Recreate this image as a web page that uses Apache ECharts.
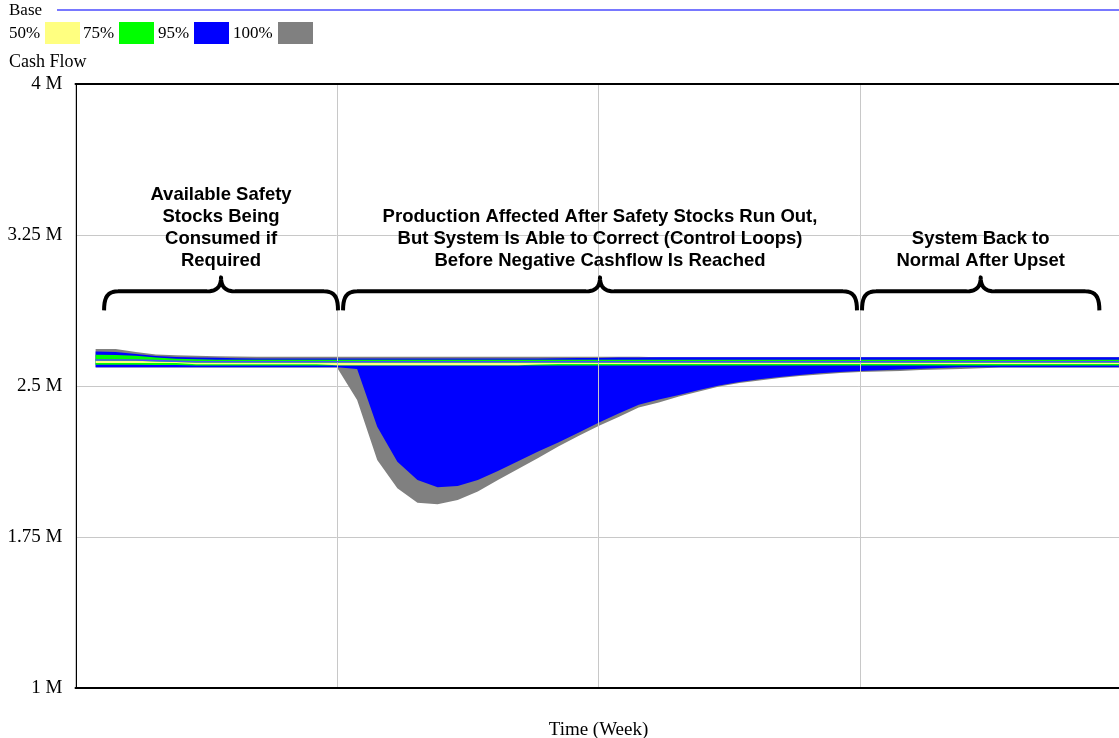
<!DOCTYPE html>
<html><head><meta charset="utf-8">
<script src="https://cdn.jsdelivr.net/npm/echarts@6/dist/echarts.min.js"></script>
<style>html,body{margin:0;padding:0;background:#fff}#c{width:1119px;height:738px}</style>
</head><body><div id="c"></div>
<script>
// ---- data (Cash Flow, millions) ----
const weeks = [1,2,3,4,5,6,7,8,9,10,11,12,13,14,15,16,17,18,19,20,21,22,23,24,25,26,27,28,29,30,31,32,33,34,35,36,37,38,39,40,41,42,43,44,45,46,47,48,49,50,51,52];

const base = [2.6291,2.6291,2.6291,2.6262,2.6232,2.6202,2.6202,2.6202,2.6202,2.6202,
  2.6202,2.6202,2.6202,2.6202,2.6202,2.6202,2.6202,2.6202,2.6202,2.6202,
  2.6202,2.6202,2.6202,2.6202,2.6202,2.6202,2.6202,2.6202,2.6202,2.6202,
  2.6202,2.6202,2.6202,2.6202,2.6202,2.6202,2.6202,2.6202,2.6202,2.6202,
  2.6202,2.6202,2.6202,2.6202,2.6202,2.6202,2.6202,2.6202,2.6202,2.6202,
  2.6202,2.6202];

const upper100 = [2.6838,2.6838,2.6689,2.6565,2.6525,2.6500,2.6475,2.6465,2.6455,2.6455,
  2.6455,2.6455,2.6455,2.6455,2.6455,2.6455,2.6455,2.6455,2.6455,2.6455,
  2.6455,2.6455,2.6455,2.6455,2.6455,2.6455,2.6455,2.6455,2.6430,2.6430,
  2.6430,2.6430,2.6430,2.6430,2.6430,2.6430,2.6430,2.6430,2.6430,2.6430,
  2.6430,2.6430,2.6430,2.6430,2.6430,2.6430,2.6430,2.6430,2.6430,2.6430,
  2.6430,2.6430];
const lower100 = [2.5914,2.5914,2.5914,2.5914,2.5914,2.5914,2.5914,2.5914,2.5914,2.5914,
  2.5914,2.5914,2.5914,2.4305,2.1325,1.9919,1.9204,1.9124,1.9338,1.9760,
  2.0331,2.0877,2.1424,2.1995,2.2517,2.3013,2.3460,2.3932,2.4180,2.4478,
  2.4727,2.4975,2.5149,2.5273,2.5397,2.5497,2.5571,2.5646,2.5695,2.5720,
  2.5745,2.5795,2.5820,2.5844,2.5879,2.5914,2.5914,2.5914,2.5914,2.5914,
  2.5914,2.5914];

const upper95 = [2.6714,2.6689,2.6589,2.6490,2.6440,2.6416,2.6401,2.6381,2.6366,2.6366,
  2.6366,2.6366,2.6366,2.6366,2.6366,2.6366,2.6366,2.6366,2.6366,2.6366,
  2.6366,2.6366,2.6366,2.6376,2.6386,2.6396,2.6411,2.6421,2.6430,2.6430,
  2.6430,2.6430,2.6430,2.6430,2.6430,2.6430,2.6430,2.6430,2.6430,2.6430,
  2.6430,2.6430,2.6430,2.6430,2.6430,2.6430,2.6430,2.6430,2.6430,2.6430,
  2.6430,2.6430];
const lower95 = [2.5929,2.5929,2.5929,2.5929,2.5929,2.5929,2.5929,2.5929,2.5929,2.5929,
  2.5929,2.5929,2.5929,2.5844,2.2978,2.1240,2.0331,1.9969,2.0033,2.0331,
  2.0778,2.1265,2.1742,2.2194,2.2680,2.3177,2.3629,2.4066,2.4329,2.4553,
  2.4801,2.5025,2.5199,2.5333,2.5447,2.5546,2.5631,2.5695,2.5745,2.5780,
  2.5820,2.5859,2.5894,2.5929,2.5929,2.5929,2.5929,2.5929,2.5929,2.5929,
  2.5929,2.5929];

const upper75 = [2.6555,2.6540,2.6505,2.6416,2.6356,2.6326,2.6306,2.6306,2.6306,2.6306,
  2.6306,2.6306,2.6306,2.6306,2.6306,2.6306,2.6306,2.6306,2.6306,2.6306,
  2.6306,2.6306,2.6306,2.6306,2.6306,2.6306,2.6306,2.6306,2.6306,2.6306,
  2.6306,2.6306,2.6306,2.6306,2.6306,2.6306,2.6306,2.6306,2.6306,2.6306,
  2.6306,2.6306,2.6306,2.6306,2.6306,2.6306,2.6306,2.6306,2.6306,2.6306,
  2.6306,2.6306];
const lower75 = [2.6058,2.6058,2.6058,2.6043,2.6043,2.6013,2.6013,2.6013,2.6013,2.6013,
  2.6013,2.6013,2.6013,2.6013,2.6013,2.6013,2.6013,2.6013,2.6013,2.6013,
  2.6013,2.6013,2.6013,2.6013,2.6013,2.6013,2.6013,2.6013,2.6013,2.6013,
  2.6013,2.6013,2.6013,2.6013,2.6013,2.6013,2.6013,2.6013,2.6013,2.6013,
  2.6013,2.6013,2.6013,2.6013,2.6013,2.6013,2.6013,2.6013,2.6013,2.6013,
  2.6013,2.6013];

const upper50 = [2.6252,2.6252,2.6252,2.6217,2.6187,2.6157,2.6157,2.6157,2.6157,2.6157,
  2.6157,2.6157,2.6157,2.6157,2.6157,2.6157,2.6157,2.6157,2.6157,2.6157,
  2.6157,2.6157,2.6157,2.6157,2.6157,2.6157,2.6157,2.6157,2.6157,2.6157,
  2.6157,2.6157,2.6157,2.6157,2.6157,2.6157,2.6157,2.6157,2.6157,2.6157,
  2.6157,2.6157,2.6157,2.6157,2.6157,2.6157,2.6157,2.6157,2.6157,2.6157,
  2.6157,2.6157];
const lower50 = [2.6142,2.6142,2.6142,2.6142,2.6142,2.6078,2.6078,2.6078,2.6078,2.6078,
  2.6078,2.6078,2.6033,2.6033,2.6033,2.6033,2.6033,2.6033,2.6033,2.6033,
  2.6033,2.6033,2.6063,2.6093,2.6093,2.6093,2.6093,2.6093,2.6093,2.6093,
  2.6093,2.6093,2.6093,2.6093,2.6093,2.6093,2.6093,2.6093,2.6093,2.6093,
  2.6093,2.6093,2.6093,2.6093,2.6093,2.6093,2.6093,2.6093,2.6093,2.6093,
  2.6093,2.6093];

const yTicks = [1, 1.75, 2.5, 3.25, 4];
const legendNames = ['50%', '75%', '95%', '100%'];
const legendColors = ['#ffff80', '#00ff00', '#0000ff', '#808080'];

const annotations = [
  'Available Safety\nStocks Being\nConsumed if\nRequired',
  'Production Affected After Safety Stocks Run Out,\nBut System Is Able to Correct (Control Loops)\nBefore Negative Cashflow Is Reached',
  'System Back to\nNormal After Upset'
];
const braceStart = [1.42, 13.3, 39.1];
const braceEnd = [13.05, 38.85, 50.9];
const braceLevel = 2.97;

// ---- chart ----
const serif = '"Liberation Serif", "Times New Roman", serif';
const sans = '"Liberation Sans", Arial, sans-serif';

function band(key, lower, upper, color) {
  return {
    type: 'custom', name: key, silent: true, z: 2,
    encode: { x: 0, y: [1, 2] },
    data: weeks.map((t, i) => [t, lower[i], upper[i]]),
    renderItem: function (params, api) {
      if (params.dataIndex !== 0) return null;
      const pts = [];
      for (let i = 0; i < weeks.length; i++) pts.push(api.coord([weeks[i], upper[i]]));
      for (let i = weeks.length - 1; i >= 0; i--) pts.push(api.coord([weeks[i], lower[i]]));
      return { type: 'polygon', shape: { points: pts }, style: { fill: color, stroke: null } };
    }
  };
}

const option = {
  animation: false,
  backgroundColor: '#fff',
  grid: { left: 75.5, top: 84, width: 1046, height: 604, outerBoundsMode: 'none', containLabel: false },
  xAxis: [{
    type: 'value', min: 0, max: 52, interval: 13, z: 3,
    axisLine: { show: true, lineStyle: { color: '#000', width: 2 } },
    axisTick: { show: false }, axisLabel: { show: false },
    splitLine: { show: true, lineStyle: { color: '#c8c8c8', width: 1 } },
    name: 'Time (Week)', nameLocation: 'middle', nameGap: 33,
    nameTextStyle: { fontFamily: serif, fontSize: 19, color: '#000' }
  }, {
    type: 'value', min: 0, max: 52, position: 'top', z: 3,
    axisLine: { show: true, lineStyle: { color: '#000', width: 2 } },
    axisTick: { show: false }, axisLabel: { show: false }, splitLine: { show: false }
  }],
  yAxis: {
    type: 'value', min: yTicks[0], max: yTicks[yTicks.length - 1], interval: 0.75,
    axisLine: { show: true, lineStyle: { color: '#000', width: 2 } },
    axisTick: { show: false },
    axisLabel: { fontFamily: serif, fontSize: 19, color: '#000', margin: 13,
      formatter: v => v + ' M' },
    splitLine: { show: true, lineStyle: { color: '#c8c8c8', width: 1 } }
  },
  series: [
    band('100%', lower100, upper100, legendColors[3]),
    band('95%', lower95, upper95, legendColors[2]),
    band('75%', lower75, upper75, legendColors[1]),
    band('50%', lower50, upper50, legendColors[0]),
    { type: 'line', name: 'Base', silent: true, symbol: 'none', z: 4,
      lineStyle: { color: '#4b4bff', width: 1.6 }, data: weeks.map((t, i) => [t, base[i]]) }
  ]
};

const chart = echarts.init(document.getElementById('c'), null, { renderer: 'canvas' });
chart.setOption(option);

// ---- legend + annotations (graphics) ----
function cubic(p0, p1, p2, p3, n, out) {
  for (let k = 1; k <= n; k++) {
    const t = k / n, u = 1 - t;
    out.push([
      u*u*u*p0[0] + 3*u*u*t*p1[0] + 3*u*t*t*p2[0] + t*t*t*p3[0],
      u*u*u*p0[1] + 3*u*u*t*p1[1] + 3*u*t*t*p2[1] + t*t*t*p3[1]
    ]);
  }
}
const g = [];
g.push({ type: 'text', x: 9, y: 11, style: { text: 'Base', font: '17px ' + serif, fill: '#000', verticalAlign: 'middle' } });
g.push({ type: 'line', shape: { x1: 57, y1: 10, x2: 1119, y2: 10 }, style: { stroke: '#4b4bff', lineWidth: 1.3 } });
const legX = [9, 83, 158, 233];
const boxX = [45, 119, 194, 278];
legendNames.forEach((n, i) => {
  g.push({ type: 'text', x: legX[i], y: 34, style: { text: n, font: '17px ' + serif, fill: '#000', verticalAlign: 'middle' } });
  g.push({ type: 'rect', shape: { x: boxX[i], y: 22, width: 35, height: 22 }, style: { fill: legendColors[i] } });
});
g.push({ type: 'text', x: 9, y: 62, style: { text: 'Cash Flow', font: '18px ' + serif, fill: '#000', verticalAlign: 'middle' } });

const yb = chart.convertToPixel({ yAxisIndex: 0 }, braceLevel);
annotations.forEach((txt, i) => {
  const x1 = chart.convertToPixel({ xAxisIndex: 0 }, braceStart[i]);
  const x2 = chart.convertToPixel({ xAxisIndex: 0 }, braceEnd[i]);
  const xc = (x1 + x2) / 2;
  const yEnd = yb + 19, yTip = yb - 14;
  const pts = [[x1, yEnd]];
  cubic([x1, yEnd], [x1, yb + 5], [x1 + 4, yb], [x1 + 14, yb], 10, pts);
  pts.push([xc - 14, yb]);
  cubic([xc - 14, yb], [xc - 4, yb], [xc, yb - 5], [xc, yTip], 10, pts);
  cubic([xc, yTip], [xc, yb - 5], [xc + 4, yb], [xc + 14, yb], 10, pts);
  pts.push([x2 - 14, yb]);
  cubic([x2 - 14, yb], [x2 - 4, yb], [x2, yb + 5], [x2, yEnd], 10, pts);
  g.push({ type: 'polyline', shape: { points: pts }, z: 10,
    style: { stroke: '#000', lineWidth: 4, fill: null, lineJoin: 'round' } });
  g.push({ type: 'text', z: 10, x: xc, y: yb - 19,
    style: { text: txt, font: 'bold 18.5px ' + sans, fill: '#000', align: 'center',
      verticalAlign: 'bottom', lineHeight: 22 } });
});
chart.setOption({ graphic: g });
</script>
</body></html>
